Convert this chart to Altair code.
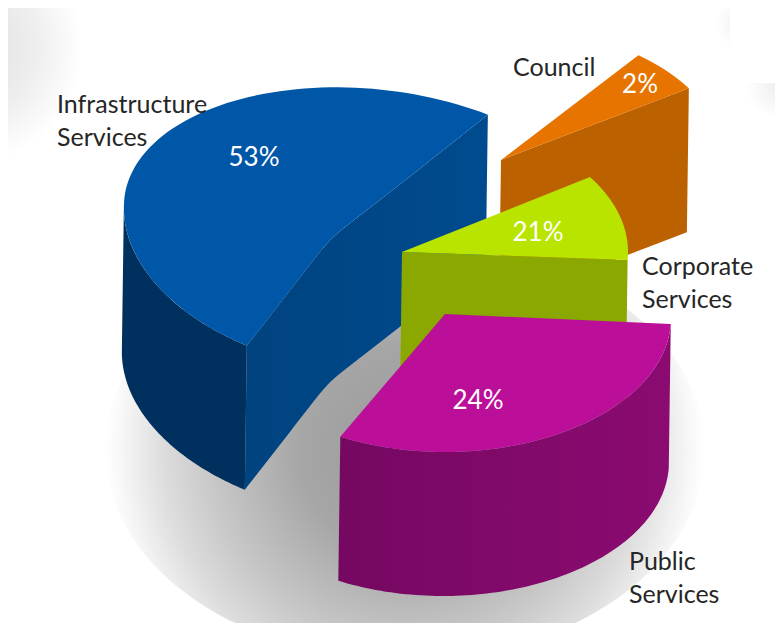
import numpy as np
import pandas as pd
import altair as alt

# ---- chart values
categories = ["Infrastructure Services", "Public Services", "Corporate Services", "Council"]
shares = [53, 24, 21, 2]

# ---- drawing geometry (screen pixels of the tilted, exploded pie)
WALL = (-2, 144)
start_deg = [63.9, 242.4, -3.4, 32.6]
span_stretch = [0.9434, 1.331, 0.491, 2.69]      # picture's slices are not to scale
ellipses = [
    dict(cx=368, cy=224, a=245, b=135, b_low=149, tilt=6),
    dict(cx=445, cy=318, a=226, b=134, b_low=134, tilt=0),
    dict(cx=402, cy=252, a=226, b=135, b_low=135, tilt=0),
    dict(cx=501, cy=160, a=223, b=133, b_low=133, tilt=0),
]
apexes = [None, (445, 314), (402, 252), (501, 160)]
top_colors = ["#0057a8", "#bb0f99", "#b9e400", "#e87400"]
wall_colors = [("#00437f", "#004b8f"), ("#750861", "#8b0b71"), ("#8aa800", "#8aa800"), ("#bc6100", "#bc6100")]
outer_blue = "#00305e"
chord_bend_at = [0, 0.39, 0.44, 0.65, 1]
chord_bend_px = [0, 19, 18.5, 11, 0]


def arc(i, t0, t1, n=90):
    e = ellipses[i]
    t = np.radians(np.linspace(t0, t1, n))
    phi = np.radians(e["tilt"])
    b = np.where(np.sin(t) >= 0, e["b"], e["b_low"])
    u = e["a"] * np.cos(t)
    v = b * np.sin(t)
    return np.column_stack([
        e["cx"] + u * np.cos(phi) + v * np.sin(phi),
        e["cy"] + u * np.sin(phi) - v * np.cos(phi),
    ])


def shifted(points):
    return points[::-1] + np.array(WALL)


def frame(points):
    return pd.DataFrame({"x": points[:, 0], "y": points[:, 1], "i": np.arange(len(points))})


X = alt.Scale(domain=[8, 775], range=[0, 767])
Y = alt.Scale(domain=[8, 623], range=[0, 615])


def poly(points, fill):
    return alt.Chart(frame(np.asarray(points, dtype=float))).mark_line(
        fill=fill, stroke=None, strokeWidth=0, interpolate="linear"
    ).encode(
        x=alt.X("x:Q", scale=X, axis=None),
        y=alt.Y("y:Q", scale=Y, axis=None),
        order="i:Q",
    )


def linear(c0, c1, x2=1, y2=0):
    return alt.LinearGradient(
        gradient="linear", x1=0, y1=0, x2=x2, y2=y2,
        stops=[alt.GradientStop(color=c0, offset=0), alt.GradientStop(color=c1, offset=1)],
    )


def radial(stops, cx=0.5, cy=0.5, r=0.5):
    return alt.RadialGradient(
        gradient="radial", x1=cx, y1=cy, x2=cx, y2=cy, r1=0, r2=r,
        stops=[alt.GradientStop(color=c, offset=o) for o, c in stops],
    )


def box(x0, y0, x1, y1):
    return [(x0, y0), (x1, y0), (x1, y1), (x0, y1)]


layers = []

# background shading
layers.append(poly(box(8, 8, 80, 165), radial([(0, "#dedede"), (0.6, "#eeeeee"), (1, "#ffffff")], 0, 0.25, 0.75)))
layers.append(poly(box(700, 8, 730, 60), radial([(0, "#efefef"), (1, "#ffffff")], 1, 0.3, 0.5)))
layers.append(poly(box(745, 83, 775, 113), radial([(0, "#ebebeb"), (1, "#ffffff")], 1.25, 0, 1.25)))

# floor shadow
t = np.radians(np.arange(0, 360, 3))
shadow = np.column_stack([405 + 300 * np.cos(t), 450 + 210 * np.sin(t)])
layers.append(poly(shadow, radial([(0, "#9a9a9a"), (0.35, "#a6a6a6"), (0.65, "#c8c8c8"), (0.8, "#dcdcdc"), (0.9, "#eeeeee"), (0.96, "#f9f9f9"), (1, "#ffffff")])))

arcs = [arc(i, start_deg[i], start_deg[i] + shares[i] * 3.6 * span_stretch[i]) for i in range(4)]

# Council
a = arcs[3]
ap = np.array([apexes[3]], dtype=float)
front = np.vstack([ap, a[:1]])
layers.append(poly(np.vstack([front, shifted(front)]), wall_colors[3][0]))
layers.append(poly(np.vstack([ap, a]), top_colors[3]))

# Infrastructure Services
a = arcs[0]
E, S = a[-1], a[0]
s = np.linspace(0, 1, 60)
direction = S - E
normal = np.array([direction[1], -direction[0]]) / np.hypot(*direction)
bend = np.interp(s, chord_bend_at, chord_bend_px)
bend = np.convolve(np.pad(bend, 2, mode="edge"), np.ones(5) / 5, mode="valid")
bend[0] = bend[-1] = 0
chord = E + s[:, None] * direction + bend[:, None] * normal
outer = arc(0, 183.7, start_deg[0] + shares[0] * 3.6 * span_stretch[0])
layers.append(poly(np.vstack([outer, shifted(outer)]), outer_blue))
layers.append(poly(np.vstack([chord, shifted(chord)]), linear(*wall_colors[0])))
layers.append(poly(np.vstack([a, chord]), top_colors[0]))

# Corporate Services
a = arcs[2]
ap = np.array([apexes[2]], dtype=float)
front = np.vstack([ap, a[:1]])
layers.append(poly(np.vstack([front, shifted(front)]), wall_colors[2][0]))
layers.append(poly(np.vstack([ap, a]), top_colors[2]))

# Public Services
a = arcs[1]
ap = np.array([apexes[1]], dtype=float)
layers.append(poly(np.vstack([a, shifted(a)]), linear(*wall_colors[1])))
layers.append(poly(np.vstack([ap, a]), top_colors[1]))

# text
label_pos = [(57, 113), (629, 570), (642, 275), (513, 76)]
share_pos = [(254, 166), (478, 409), (538, 241), (640, 93)]
LINE = 32.5
rows = []
for c, (x, y) in zip(categories, label_pos):
    for k, line in enumerate(c.split(" ")):
        rows.append({"x": x, "y": y + k * LINE, "t": line})
names = pd.DataFrame(rows)
pct = pd.DataFrame({"x": [p[0] for p in share_pos], "y": [p[1] for p in share_pos],
                    "t": [f"{v}%" for v in shares]})
layers.append(alt.Chart(names).mark_text(font="Lato", fontSize=25, align="left", baseline="alphabetic", color="#262626").encode(
    x=alt.X("x:Q", scale=X, axis=None), y=alt.Y("y:Q", scale=Y, axis=None), text="t:N"))
layers.append(alt.Chart(pct).mark_text(font="Lato", fontSize=26, align="center", baseline="alphabetic", color="#ffffff").encode(
    x=alt.X("x:Q", scale=X, axis=None), y=alt.Y("y:Q", scale=Y, axis=None), text="t:N"))

chart = alt.layer(*layers).properties(
    width=767, height=615, padding=0, autosize=alt.AutoSizeParams(type="none"),
    background="#ffffff",
).configure_view(stroke=None)

chart.save("out.html", embed_options={"renderer": "svg", "actions": False})
